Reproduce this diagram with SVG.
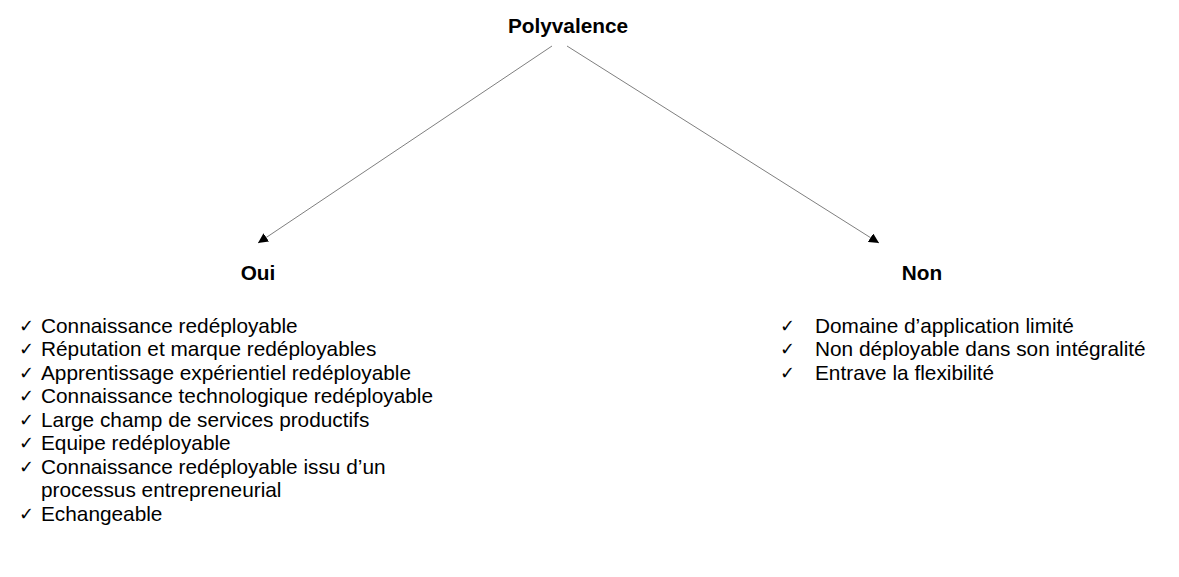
<svg xmlns="http://www.w3.org/2000/svg" width="1179" height="577" viewBox="0 0 1179 577">
<style>
.t{font-family:"Liberation Sans",Arial,sans-serif;font-size:20.8px;fill:#000}
.k{font-family:"Open Sans",sans-serif;font-size:18px;fill:#000}
.h{font-family:"Liberation Sans",Arial,sans-serif;font-size:20.8px;font-weight:bold;fill:#000}
.c{stroke:#7f7f7f;stroke-width:1;fill:none}
</style>
<defs>
<marker id="ah" viewBox="0 0 10 10" refX="10" refY="5" markerWidth="10" markerHeight="10" markerUnits="userSpaceOnUse" orient="auto">
<path d="M0,0 L10,5 L0,10 z" fill="#000"/>
</marker>
</defs>
<rect width="1179" height="577" fill="#fff"/>
<g id="connectors">
<line class="c" x1="552" y1="46" x2="258" y2="243" marker-end="url(#ah)"/>
<line class="c" x1="567" y1="46" x2="879" y2="243" marker-end="url(#ah)"/>
</g>
<g id="polyvalence"><text class="h" x="568" y="33" text-anchor="middle">Polyvalence</text></g>
<g id="oui">
<text class="h" x="258" y="280" text-anchor="middle">Oui</text>
<text class="k" x="19" y="332">✓</text><text class="t" x="41" y="333">Connaissance redéployable</text>
<text class="k" x="19" y="355">✓</text><text class="t" x="41" y="356">Réputation et marque redéployables</text>
<text class="k" x="19" y="379">✓</text><text class="t" x="41" y="380">Apprentissage expérientiel redéployable</text>
<text class="k" x="19" y="402">✓</text><text class="t" x="41" y="403">Connaissance technologique redéployable</text>
<text class="k" x="19" y="426">✓</text><text class="t" x="41" y="427">Large champ de services productifs</text>
<text class="k" x="19" y="449">✓</text><text class="t" x="41" y="450">Equipe redéployable</text>
<text class="k" x="19" y="473">✓</text><text class="t" x="41" y="474">Connaissance redéployable issu d’un</text>
<text class="t" x="41" y="497">processus entrepreneurial</text>
<text class="k" x="19" y="520">✓</text><text class="t" x="41" y="521">Echangeable</text>
</g>
<g id="non">
<text class="h" x="922" y="280" text-anchor="middle">Non</text>
<text class="k" x="780" y="332">✓</text><text class="t" x="815" y="333">Domaine d’application limité</text>
<text class="k" x="780" y="355">✓</text><text class="t" x="815" y="356">Non déployable dans son intégralité</text>
<text class="k" x="780" y="379">✓</text><text class="t" x="815" y="380">Entrave la flexibilité</text>
</g>
</svg>
